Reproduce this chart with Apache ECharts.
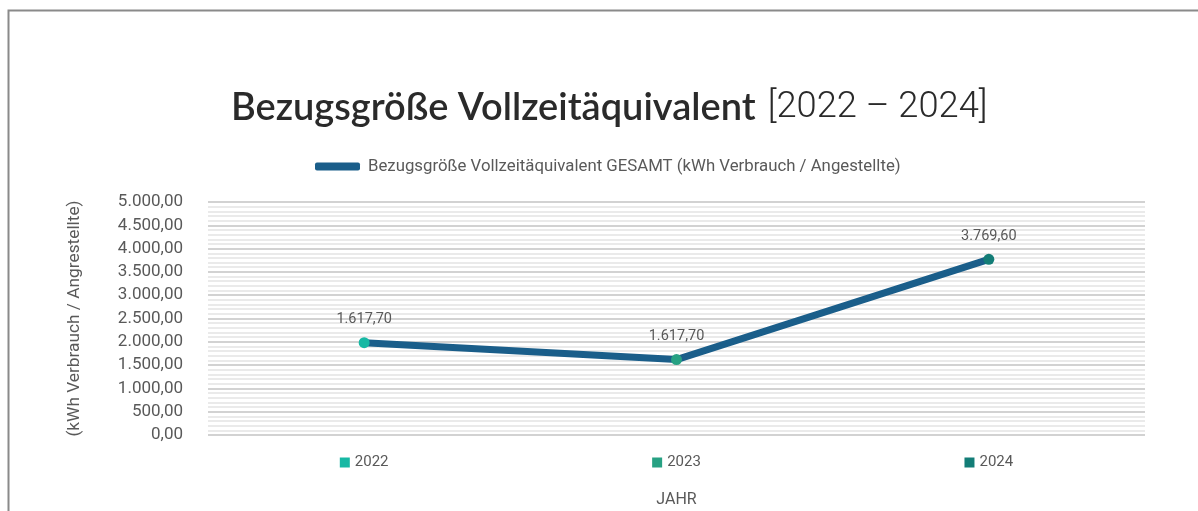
<!DOCTYPE html>
<html>
<head>
<meta charset="utf-8">
<script src="https://cdn.jsdelivr.net/npm/echarts@6/dist/echarts.min.js"></script>
<style>
html,body{margin:0;padding:0;background:#fff;}
#chart{width:1198px;height:511px;}
</style>
</head>
<body>
<div id="chart"></div>
<script>
const categories = ['2022', '2023', '2024'];
const values = [1980, 1617.7, 3769.6];
const dataLabels = ['1.617,70', '1.617,70', '3.769,60'];
const pointColors = ['#17b8a4', '#27a183', '#137d77'];
const seriesName = 'Bezugsgröße Vollzeitäquivalent GESAMT (kWh Verbrauch / Angestellte)';
const yTicks = { min: 0, max: 5000, interval: 500 };

function fmtDE(v) {
  const fixed = v.toFixed(2);
  let [intPart, dec] = fixed.split('.');
  intPart = intPart.replace(/\B(?=(\d{3})+(?!\d))/g, '.');
  return intPart + ',' + dec;
}

const chart = echarts.init(document.getElementById('chart'));
const labelFont = 'Roboto, "Noto Sans", sans-serif';

const richCats = {};
categories.forEach((c, i) => {
  richCats['sq' + i] = { width: 10, height: 10, backgroundColor: pointColors[i] };
});
richCats.t = { fontSize: 15, color: '#595959', fontFamily: labelFont, padding: [0, 0, 0, 5] };

chart.setOption({
  backgroundColor: '#fff',
  animation: false,
  graphic: [{
    type: 'polyline',
    shape: { points: [[8.5, 520], [8.5, 10.5], [1210, 10.5]] },
    style: { stroke: '#8a8a8a', lineWidth: 2, fill: null },
    silent: true
  }],
  title: {
    text: '{b|Bezugsgröße Vollzeitäquivalent}{l|[2022 – 2024]}',
    left: 226,
    top: 84,
    textStyle: {
      rich: {
        b: { fontFamily: 'Lato, sans-serif', fontSize: 38, fontWeight: 600, color: '#2a2a2a', padding: [0, 12, 0, 0] },
        l: { fontFamily: 'Roboto, sans-serif', fontSize: 36.3, fontWeight: 300, color: '#2a2a2a' }
      }
    }
  },
  legend: {
    top: 153,
    left: 310,
    data: [{ name: seriesName, icon: 'roundRect' }],
    itemWidth: 45,
    itemHeight: 8,
    itemGap: 10,
    textStyle: { fontSize: 16.8, color: '#595959', fontFamily: labelFont, padding: [0, 0, 0, 3] },
    itemStyle: { color: '#1a5e8a' }
  },
  grid: { left: 208, right: 53, top: 202, bottom: 76, containLabel: false },
  xAxis: {
    type: 'category',
    data: categories,
    name: 'JAHR',
    nameLocation: 'middle',
    nameGap: 57,
    nameTextStyle: { fontSize: 16, color: '#595959', fontFamily: labelFont },
    axisLine: { show: false },
    axisTick: { show: false },
    axisLabel: {
      margin: 20,
      formatter: function (v, i) { return '{sq' + i + '|}{t|' + v + '}'; },
      rich: richCats
    }
  },
  yAxis: {
    type: 'value',
    min: yTicks.min,
    max: yTicks.max,
    interval: yTicks.interval,
    name: '(kWh Verbrauch / Angrestellte)',
    nameLocation: 'middle',
    nameRotate: 90,
    nameGap: 125,
    nameTextStyle: { fontSize: 17.3, color: '#595959', fontFamily: labelFont },
    axisLine: { show: false },
    axisTick: { show: false },
    axisLabel: {
      margin: 25,
      fontSize: 17,
      color: '#595959',
      fontFamily: labelFont,
      formatter: fmtDE
    },
    splitLine: { show: true, lineStyle: { color: '#d2d2d2', width: 2 } },
    minorTick: { show: false, splitNumber: 5 },
    minorSplitLine: { show: true, lineStyle: { color: '#e4e4e4', width: 1.5 } }
  },
  series: [{
    name: seriesName,
    type: 'line',
    data: values.map((v, i) => ({
      value: v,
      itemStyle: { color: pointColors[i] },
      label: { formatter: dataLabels[i] }
    })),
    lineStyle: { color: '#1a5e8a', width: 7 },
    itemStyle: { color: '#1a5e8a' },
    symbol: 'circle',
    symbolSize: 11,
    z: 5,
    label: {
      show: true,
      position: 'top',
      distance: 10,
      fontSize: 14.5,
      color: '#595959',
      fontFamily: labelFont
    }
  }]
});
</script>
</body>
</html>
